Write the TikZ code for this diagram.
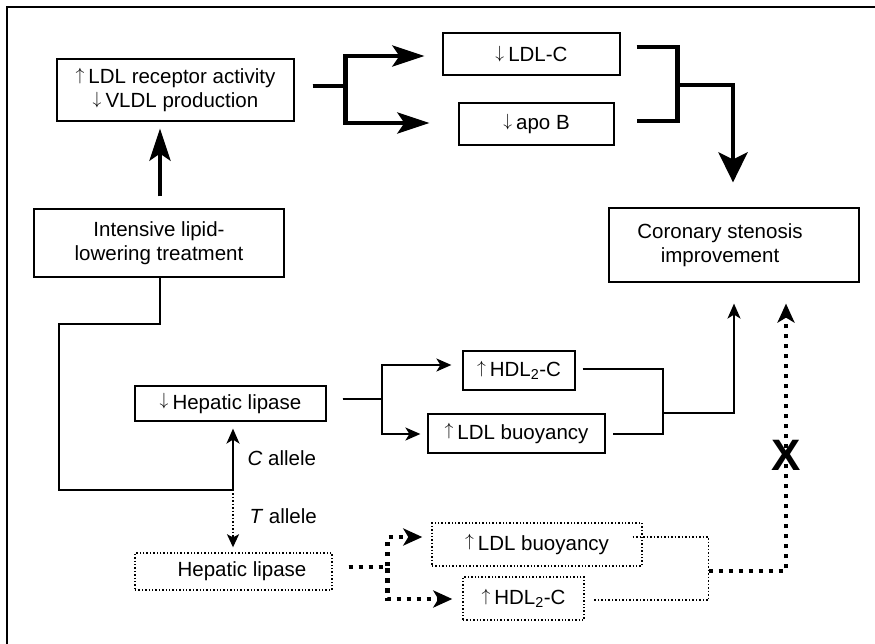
\documentclass[tikz,border=0pt]{standalone}
\usepackage{fontspec}
\usepackage{graphicx}
\setmainfont{Liberation Sans}
\usetikzlibrary{arrows.meta,calc}
\newcommand\myup{\raisebox{3.2pt}{\scalebox{0.85}{$\uparrow$}}\hspace{4pt}}
\newcommand\mydown{\raisebox{3.2pt}{\scalebox{0.85}{$\downarrow$}}\hspace{4pt}}
\begin{document}
\begin{tikzpicture}[x=1pt,y=-1pt,
  every node/.style={font=\fontsize{20.5}{24.5}\selectfont},
  box/.style={draw,line width=1.2pt,inner sep=0pt,align=center},
  dbox/.style={box,line width=1.4pt,dash pattern=on 1.4pt off 2pt},
  thk/.style={line width=4.5pt,line join=miter},
  thn/.style={line width=1.8pt},
  thndot/.style={line width=1.5pt,dash pattern=on 1.5pt off 2pt},
  thkdot/.style={line width=4.5pt,dash pattern=on 4.5pt off 5.5pt},
  bigtip/.style={-{Stealth[length=32pt,width=21pt,inset=7pt]}},
  downtip/.style={-{Stealth[length=30pt,width=29pt,inset=7pt]}},
  smalltip/.style={-{Stealth[length=15pt,width=13pt,inset=4pt]}},
  dottip/.style={-{Stealth[length=19pt,width=17pt,inset=5pt]}},
  thindottip/.style={-{Stealth[length=13pt,width=12pt,inset=3pt]}}
]
\useasboundingbox (0,0) rectangle (875,644);
% frame
\draw[line width=2pt] (7,644) -- (7,7) -- (875,7);

% nodes
\node[box,minimum width=237pt,minimum height=62pt] (recep) at (175.5,90) {\myup LDL receptor activity\\\mydown VLDL production};
\node[box,minimum width=250pt,minimum height=68pt] (treat) at (159,243) {Intensive lipid-\\lowering treatment};
\node[box,minimum width=177pt,minimum height=42pt] (ldlc) at (531.5,54) {\mydown LDL-C};
\node[box,minimum width=155pt,minimum height=42pt] (apob) at (536.5,124) {\mydown apo B};
\node[box,minimum width=250pt,minimum height=74pt,
  label={[align=center,xshift=-14pt]center:{Coronary stenosis\\improvement}}] (coron) at (734,245) {};
\node[box,minimum width=191pt,minimum height=35pt] (hl) at (230.5,403.5) {\mydown Hepatic lipase};
\node[box,minimum width=112pt,minimum height=39pt] (hdl) at (519,370.5) {\myup HDL\textsubscript{2}-C};
\node[box,minimum width=177pt,minimum height=39pt] (buoy) at (516.5,433.5) {\myup LDL buoyancy};
\node[dbox,minimum width=197pt,minimum height=37pt,
  label={[xshift=8.5pt]center:Hepatic lipase}] (hlT) at (233.5,571.5) {};
\node[dbox,minimum width=210pt,minimum height=43pt] (buoyT) at (537,544.5) {\myup LDL buoyancy};
\node[dbox,minimum width=121pt,minimum height=43pt] (hdlT) at (523.5,598.5) {\myup HDL\textsubscript{2}-C};

% thick arrow treatment -> receptor
\draw[thk,bigtip] ($(treat.north)+(1,-12)$) -- ($(treat.north |- recep.south)+(1,7)$);

% thick fork
\coordinate (s1) at ($(recep.east)+(18,-4)$);
\coordinate (j1) at ($(s1)+(33,0)$);
\draw[thk,bigtip] (s1) -- (j1) |- ($(ldlc.west)+(-18,2)$);
\draw[thk,bigtip] (s1) -- (j1) |- ($(apob.west)+(-29,-1)$);

% thick merge
\coordinate (m1) at ($(ldlc.east)+(16,-7)$);
\coordinate (m2) at ($(apob.east)+(22,-3)$);
\draw[thk] (m1) -- ++(41,0) |- (m2);
\coordinate (j2) at ($(m1)+(41,38)$);
\draw[thk,downtip] (j2) -| ($(coron.north)+(-1,-25)$);

% treatment -> hepatic lipase (C allele)
\draw[thn,smalltip] ($(treat.south)+(1,0)$) -- ++(0,46) -- ++(-101,0) -- ++(0,166) -- ++(174,0) coordinate (ca) -- ($(hl.south)+(2.5,7)$);
\node[anchor=west] (clab) at ($(ca)+(11,-31)$) {\textit{C} allele};
\node[anchor=west] (tlab) at ($(ca)+(13,27)$) {\textit{T} allele};
\draw[thndot,thindottip] (ca) -- ($(hlT.north)+(-0.5,-5)$);

% hepatic lipase fork
\coordinate (s2) at ($(hl.east)+(16,-4.5)$);
\coordinate (j3) at ($(s2)+(39,0)$);
\draw[thn,smalltip] (s2) -- (j3) |- ($(hdl.west)+(-11,-5.5)$);
\draw[thn,smalltip] (s2) -- (j3) |- ($(buoy.west)+(-7,0.5)$);

% thin merge
\coordinate (m3) at ($(hdl.east)+(7,-1.5)$);
\coordinate (m4) at ($(buoy.east)+(7,0.5)$);
\draw[thn] (m3) -- ++(80,0) |- (m4);
\coordinate (j4) at ($(m3)+(80,44)$);
\draw[thn,smalltip] (j4) -| ($(coron.south)+(0,21)$);

% dotted fork
\coordinate (s3) at ($(hlT.east)+(16,-4.5)$);
\coordinate (j5) at ($(s3)+(39,0)$);
\draw[thkdot,dottip] (s3) -- (j5) |- ($(buoyT.west)+(-9,-7.5)$);
\draw[thkdot,dottip] (s3) -- (j5) |- ($(hdlT.west)+(-10,0.5)$);

% dotted merge
\coordinate (m5) at ($(buoyT.east)+(-10,-7.5)$);
\coordinate (m6) at ($(hdlT.east)+(9,1.5)$);
\draw[thndot] (m5) -- ++(76,0) |- (m6);
\coordinate (j6) at ($(m5)+(76,34)$);
\draw[thkdot,dottip] (j6) -| ($(coron.south)+(52,21)$);

% blocked mark
\node[font=\fontsize{44}{44}\selectfont\bfseries,inner sep=0pt] (xmark) at (786,455) {X};
\end{tikzpicture}
\end{document}
